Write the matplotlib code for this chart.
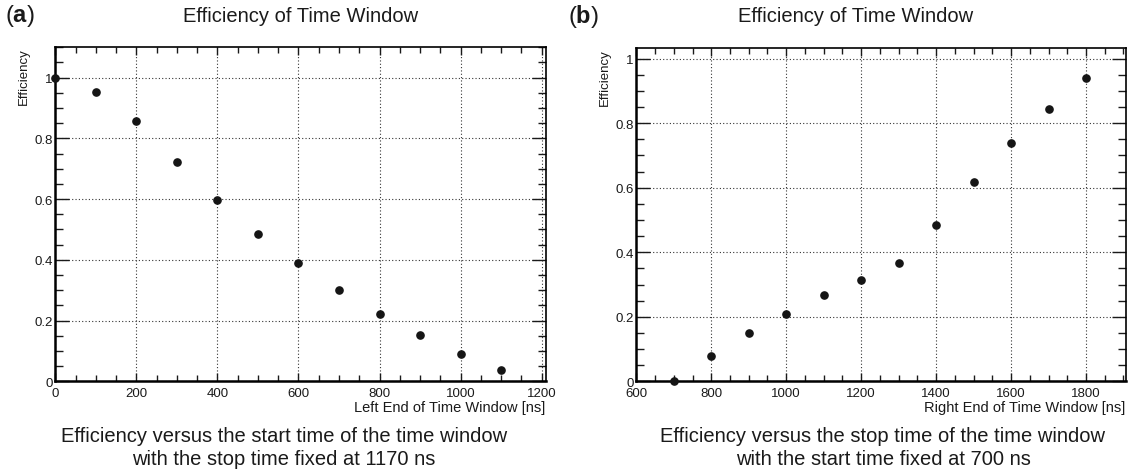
import matplotlib
matplotlib.use('Agg')
import matplotlib.pyplot as plt
from matplotlib.ticker import MultipleLocator, FuncFormatter

plt.rcParams['font.family'] = ['Liberation Sans', 'DejaVu Sans']
plt.rcParams['mathtext.fontset'] = 'custom'
plt.rcParams['mathtext.bf'] = 'Liberation Sans:bold'

# panel (a): start time varied, stop fixed at 1170 ns
left_end = [0, 100, 200, 300, 400, 500, 600, 700, 800, 900, 1000, 1100]
eff_left = [1.0, 0.952, 0.857, 0.722, 0.598, 0.486, 0.389, 0.300, 0.223, 0.152, 0.091, 0.036]

# panel (b): stop time varied, start fixed at 700 ns
right_end = [700, 800, 900, 1000, 1100, 1200, 1300, 1400, 1500, 1600, 1700, 1800]
eff_right = [0.002, 0.079, 0.149, 0.210, 0.266, 0.314, 0.368, 0.485, 0.618, 0.739, 0.845, 0.940]

title = 'Efficiency of Time Window'
xlabels = ['Left End of Time Window [ns]', 'Right End of Time Window [ns]']
captions = ['Efficiency versus the start time of the time window\nwith the stop time fixed at 1170 ns',
            'Efficiency versus the stop time of the time window\nwith the start time fixed at 700 ns']

W, H = 1133, 477
fig = plt.figure(figsize=(W / 100, H / 100), dpi=100)

def px_axes(l, t, r, b):
    return fig.add_axes([l / W, 1 - b / H, (r - l) / W, (b - t) / H])

ax_a = px_axes(55.3, 48.3, 545.7, 382.3)
ax_b = px_axes(636.3, 49, 1125.7, 382.3)

fmt = FuncFormatter(lambda v, p: '%g' % round(v, 3))

def style(ax, xs, ys, xlim, ylim, xlabel):
    ax.plot(xs, ys, 'o', color='#151515', markersize=5.2, zorder=5, clip_on=False)
    ax.set_xlim(*xlim)
    ax.set_ylim(*ylim)
    ax.xaxis.set_major_locator(MultipleLocator(200))
    ax.xaxis.set_minor_locator(MultipleLocator(50))
    ax.yaxis.set_major_locator(MultipleLocator(0.2))
    ax.yaxis.set_minor_locator(MultipleLocator(0.05))
    ax.xaxis.set_major_formatter(fmt)
    ax.yaxis.set_major_formatter(fmt)
    ax.tick_params(which='both', direction='in', top=True, right=True,
                   labelsize=9.5, colors='#1a1a1a', width=1.0)
    ax.tick_params(axis='x', which='major', length=6, pad=4)
    ax.tick_params(axis='x', which='minor', length=4)
    ax.tick_params(axis='y', which='major', length=10, pad=2)
    ax.tick_params(axis='y', which='minor', length=5.5)
    ax.grid(True, which='major', linestyle=(0, (1, 2)), color='#333333', linewidth=0.8)
    for side in ['left', 'bottom']:
        ax.spines[side].set_linewidth(1.8)
    for side in ['right', 'top']:
        ax.spines[side].set_linewidth(1.2)
    ax.set_xlabel(xlabel, loc='right', fontsize=10.5, labelpad=1, color='#1a1a1a')
    ax.set_ylabel('Efficiency', loc='top', fontsize=9.5, labelpad=3, color='#1a1a1a')

style(ax_a, left_end, eff_left, (0, 1210), (0, 1.1), xlabels[0])
style(ax_b, right_end, eff_right, (600, 1906), (0, 1.033), xlabels[1])

fig.text(301 / W, 1 - 17 / H, title, ha='center', va='center', fontsize=14.5, color='#1a1a1a')
fig.text(856 / W, 1 - 17 / H, title, ha='center', va='center', fontsize=14.5, color='#1a1a1a')

fig.text(5 / W, 1 - 16 / H, r'($\mathbf{a}$)', ha='left', va='center', fontsize=17, color='#1a1a1a')
fig.text(568 / W, 1 - 16 / H, r'($\mathbf{b}$)', ha='left', va='center', fontsize=17, color='#1a1a1a')

fig.text(284 / W, 1 - 448 / H, captions[0], ha='center', va='center', fontsize=14.5,
         linespacing=1.3, color='#1a1a1a')
fig.text(883 / W, 1 - 448 / H, captions[1], ha='center', va='center', fontsize=14.5,
         linespacing=1.3, color='#1a1a1a')

fig.savefig('out.png', dpi=100)
